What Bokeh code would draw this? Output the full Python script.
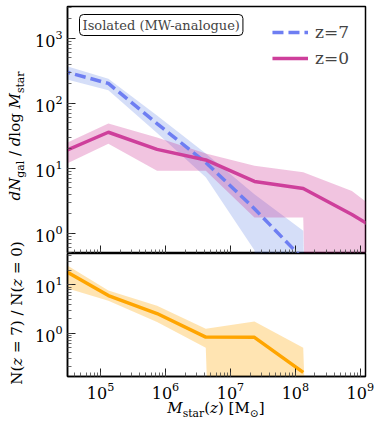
import numpy as np
from bokeh.plotting import figure
from bokeh.models import Range1d, Label, Legend, LegendItem, Div, Spacer
from bokeh.layouts import column, row
from bokeh.embed import file_html
from bokeh.resources import INLINE

nan = float("nan")

# ---- data ----
mstar = [2.34e4, 1.32e5, 7.41e5, 4.17e6, 2.34e7, 1.32e8, 7.41e8, 4.17e9]

n_z7 = [325, 203, 49, 12.3, 2.4, 0.4, nan, nan]
n_z7_lo = [250, 160, 35, 7.3, 0.55, 0, 0, 0]
n_z7_hi = [405, 240, 65, 17, 4.0, 1.1, 0, 0]

n_z0 = [17, 36, 19.6, 13.5, 6.3, 4.9, 1.95, 0.69]
n_z0_lo = [10.5, 24, 9.2, 9.2, 1.76, 1.76, 0, 0]
n_z0_hi = [22, 49, 30, 17, 11, 8.7, 4.5, 1.2]

ratio = [22.5, 6.0, 2.55, 0.83, 0.82, 0.154, nan, nan]
ratio_lo = [9.5, 4.7, 1.7, 0.5, 0, 0, 0, 0]
ratio_hi = [31.6, 7.6, 3.7, 1.24, 1.74, 0.5, 0, 0]

FLOOR = 1e-30


def fl(a):
    return [v if v > 0 else FLOOR for v in a]


FONT = "DejaVu Serif"
BLUE = "#6E7EF2"
PINK = "#CE3F9B"
ORANGE = "#FFA500"

X_RANGE = (3.1e4, 1.2e9)


def style(p):
    p.xgrid.visible = False
    p.ygrid.visible = False
    p.outline_line_color = "black"
    p.outline_line_width = 1.5
    p.outline_line_alpha = 1
    for ax in p.axis:
        ax.major_label_text_font = FONT
        ax.major_label_text_font_size = "16px"
        ax.major_label_text_color = "black"
        ax.major_tick_in = 8
        ax.major_tick_out = 0
        ax.minor_tick_in = 4
        ax.minor_tick_out = 0
        ax.axis_line_color = "black"
        ax.axis_line_width = 1.5
        ax.major_tick_line_color = "#222"
        ax.minor_tick_line_color = "#444"
        ax.major_tick_line_width = 1
        ax.minor_tick_line_width = 0.8


p1 = figure(width=346, height=253, x_axis_type="log", y_axis_type="log",
            x_range=Range1d(*X_RANGE), y_range=Range1d(0.49, 3100),
            output_backend="svg", toolbar_location=None,
            min_border_left=39, min_border_right=9, min_border_top=6, min_border_bottom=0)
style(p1)
p1.xaxis.major_label_text_font_size = "1px"
p1.xaxis.major_label_text_alpha = 0
p1.xaxis.major_label_standoff = 0

p1.varea(x=mstar, y1=fl(n_z7_lo), y2=fl(n_z7_hi), fill_color="royalblue", fill_alpha=0.22)
p1.varea(x=mstar, y1=fl(n_z0_lo), y2=fl(n_z0_hi), fill_color="#C71585", fill_alpha=0.25)
r7 = p1.line(mstar, n_z7, line_color=BLUE, line_width=3.5, line_dash="11 5")
r0 = p1.line(mstar, n_z0, line_color=PINK, line_width=3.5)

legend = Legend(items=[LegendItem(label="z=7", renderers=[r7]),
                       LegendItem(label="z=0", renderers=[r0])],
                location="top_right", border_line_alpha=0, background_fill_alpha=0,
                label_text_font=FONT, label_text_font_size="17px",
                glyph_width=36, glyph_height=20, label_height=20, spacing=6,
                padding=2, margin=14, label_standoff=7)
p1.add_layout(legend)

p1.add_layout(Label(x=12, y=239, x_units="screen", y_units="screen",
                    text="Isolated (MW-analogue)", text_font=FONT, text_font_size="13px",
                    text_baseline="top", text_align="left",
                    border_line_color="black", border_line_width=1, border_radius=4,
                    padding=3, background_fill_color="white"))

p2 = figure(width=346, height=151, x_axis_type="log", y_axis_type="log",
            x_range=Range1d(*X_RANGE), y_range=Range1d(0.127, 44.5),
            output_backend="svg", toolbar_location=None,
            min_border_left=39, min_border_right=9, min_border_top=0, min_border_bottom=28)
style(p2)
p2.xaxis.major_label_standoff = 5
p2.varea(x=mstar, y1=fl(ratio_lo), y2=fl(ratio_hi), fill_color=ORANGE, fill_alpha=0.3)
p2.line(mstar, ratio, line_color=ORANGE, line_width=3.5)

TXT = f"font-family:'{FONT}';font-size:15px;color:black;line-height:1;"
SUB = "font-size:72%;"


def ylab(html, h_outer, center_y):
    return Div(text=(f'<div style="position:relative;width:28px;height:{h_outer}px;">'
                     f'<div style="position:absolute;left:17px;top:{center_y}px;'
                     f'transform:translate(-50%,-50%) rotate(-90deg);white-space:nowrap;{TXT}">'
                     f'{html}</div></div>'),
               width=28, height=h_outer, margin=0)


d1 = ylab(f'<i>dN</i><sub style="{SUB}">gal</sub> / <i>d</i>log <i>M</i><sub style="{SUB}">star</sub>', 253, 136)
d2 = ylab('N(<i>z</i> = 7) / N(<i>z</i> = 0)', 151, 60)

xdiv = Div(text=(f'<div style="position:relative;top:-3px;width:298px;text-align:center;white-space:nowrap;{TXT}">'
                 f'<i>M</i><sub style="{SUB}">star</sub>(<i>z</i>) [M<sub style="{SUB}">⊙</sub>]</div>'),
           width=298, height=17, margin=0)

layout = column(row(column(d1, d2), column(p1, p2)),
                row(Spacer(width=67, height=17), xdiv))

open("out.html", "w").write(file_html(layout, INLINE))
